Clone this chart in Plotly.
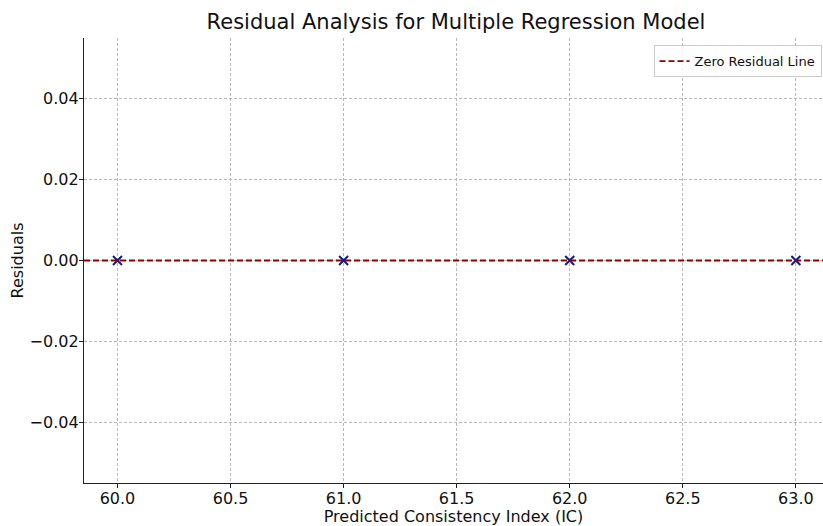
import plotly.graph_objects as go

predicted = [60.0, 61.0, 62.0, 63.0]
residuals = [0.0, 0.0, 0.0, 0.0]
zero_x = [59.852, 63.12]
zero_y = [0.0, 0.0]

x_ticks = [60.0, 60.5, 61.0, 61.5, 62.0, 62.5, 63.0]
y_ticks = [-0.04, -0.02, 0.0, 0.02, 0.04]

FONT = "DejaVu Sans"

fig = go.Figure()
fig.add_trace(go.Scatter(
    x=predicted, y=residuals, mode="markers",
    marker=dict(symbol="x-thin", size=9, color="#1a1a80",
                line=dict(width=2, color="#1a1a80")),
    showlegend=False, hoverinfo="x+y",
))
fig.add_trace(go.Scatter(
    x=zero_x, y=zero_y, mode="lines",
    line=dict(color="#8b0000", width=1.8, dash="6px,3px"),
    name="Zero Residual Line",
))

fig.update_layout(
    width=823, height=526,
    margin=dict(l=84, r=0, t=38, b=43, autoexpand=False),
    paper_bgcolor="white", plot_bgcolor="white",
    font=dict(family=FONT, size=16, color="#111111"),
    title=dict(text="Residual Analysis for Multiple Regression Model",
               x=456 / 823, xanchor="center", xref="container",
               y=1 - 22 / 526, yanchor="middle", yref="container",
               font=dict(size=21, family=FONT, color="#111111")),
    legend=dict(x=0.998, xanchor="right", y=0.984, yanchor="top",
                bgcolor="rgba(255,255,255,0.85)", bordercolor="#cccccc",
                borderwidth=1, font=dict(size=13, family=FONT),
                itemwidth=30, tracegroupgap=0),
    showlegend=True,
)
fig.update_xaxes(
    range=[59.852, 63.12], tickvals=x_ticks,
    ticktext=[f"{v:.1f}" for v in x_ticks],
    showgrid=True, gridcolor="#b8b8b8", griddash="3px,2px", gridwidth=0.8,
    showline=True, linecolor="#222222", linewidth=1.3,
    ticks="outside", ticklen=4, tickwidth=1, tickcolor="#222222",
    zeroline=False, mirror=False, automargin=True,
    tickfont=dict(size=16), ticklabelstandoff=-3,
    title=dict(text="Predicted Consistency Index (IC)", standoff=4,
               font=dict(size=16, family=FONT)),
)
fig.update_yaxes(
    range=[-0.055, 0.055], tickvals=y_ticks,
    ticktext=[("\u2212" if v < 0 else "") + f"{abs(v):.2f}" for v in y_ticks],
    showgrid=True, gridcolor="#b8b8b8", griddash="3px,2px", gridwidth=0.8,
    showline=True, linecolor="#222222", linewidth=1.3,
    ticks="outside", ticklen=4, tickwidth=1, tickcolor="#222222",
    zeroline=False, mirror=False, automargin=True,
    tickfont=dict(size=16), ticklabelstandoff=-3,
    title=dict(text="Residuals", standoff=2,
               font=dict(size=16, family=FONT)),
)

fig.write_html(
    "out.html",
    config={"displayModeBar": False},
    post_script="document.body.style.margin='0';document.body.style.padding='0';",
)
